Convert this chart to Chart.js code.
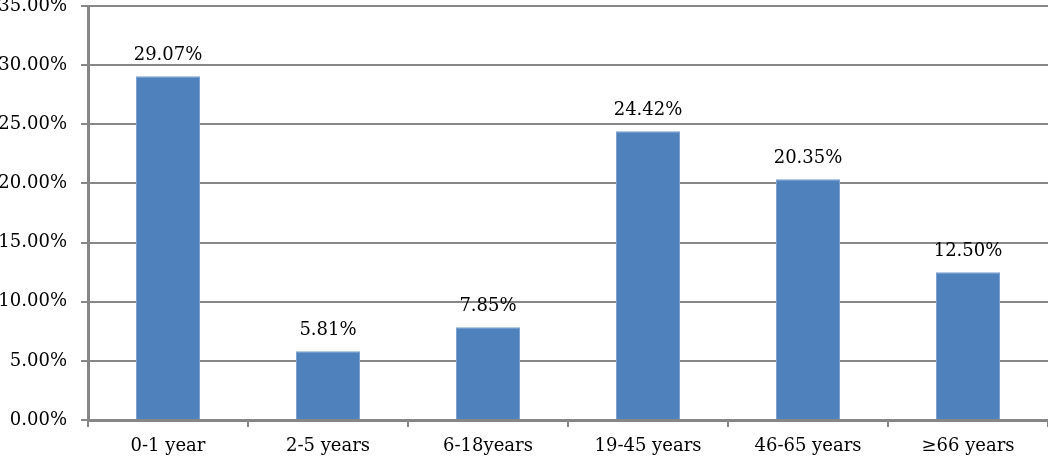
<!DOCTYPE html>
<html>
<head>
<meta charset="utf-8">
<script src="https://cdn.jsdelivr.net/npm/chart.js@4/dist/chart.umd.min.js"></script>
<style>
  html, body { margin: 0; padding: 0; background: #fff; }
  #chart { display: block; }
</style>
</head>
<body>
<canvas id="chart" width="1048" height="456"></canvas>
<script>
// age groups and share of cases (%)
const ageGroups = ['0-1 year', '2-5 years', '6-18years', '19-45 years', '46-65 years', '≥66 years'];
const shares = [29.07, 5.81, 7.85, 24.42, 20.35, 12.50];
const yTicks = [0, 5, 10, 15, 20, 25, 30, 35];

const FONT = 'DejaVu Serif';
const FONT_SIZE = 18;
const AXIS_GRAY = '#878787';

// draws the value above each bar
const barLabels = {
    id: 'barLabels',
    afterDatasetsDraw(chart) {
        const ctx = chart.ctx;
        const meta = chart.getDatasetMeta(0);
        ctx.save();
        ctx.font = FONT_SIZE + 'px "' + FONT + '"';
        ctx.fillStyle = '#000';
        ctx.textAlign = 'center';
        ctx.textBaseline = 'alphabetic';
        meta.data.forEach((bar, i) => {
            ctx.fillText(shares[i].toFixed(2) + '%', bar.x, bar.y - 16);
        });
        ctx.restore();
    }
};

new Chart(document.getElementById('chart'), {
    type: 'bar',
    data: {
        labels: ageGroups,
        datasets: [{
            data: shares,
            backgroundColor: '#4F81BD',
            borderColor: '#7DA1D0',
            borderWidth: 1,
            barPercentage: 0.4,
            categoryPercentage: 1.0
        }]
    },
    options: {
        responsive: false,
        devicePixelRatio: 1,
        animation: false,
        layout: {padding: {top: 6, right: 0, left: 0, bottom: 0}},
        plugins: {
            legend: {display: false},
            tooltip: {enabled: false}
        },
        scales: {
            x: {
                offset: true,
                grid: {
                    display: true,
                    offset: true,
                    drawOnChartArea: false,
                    drawTicks: true,
                    tickLength: 7,
                    color: AXIS_GRAY,
                    lineWidth: 2
                },
                border: {display: true, color: AXIS_GRAY, width: 3},
                ticks: {
                    color: '#000',
                    padding: 9,
                    maxRotation: 0,
                    font: {family: FONT, size: FONT_SIZE}
                },
                afterFit(scale) {
                    scale.height = 36;
                    scale.paddingLeft = 0;
                    scale.paddingRight = 0;
                }
            },
            y: {
                min: 0,
                max: 35,
                afterBuildTicks(scale) {
                    scale.ticks = yTicks.map(v => ({value: v}));
                },
                grid: {
                    display: true,
                    color: AXIS_GRAY,
                    lineWidth: 2,
                    drawTicks: true,
                    tickLength: 7
                },
                border: {display: true, color: AXIS_GRAY, width: 3},
                ticks: {
                    color: '#000',
                    padding: 14,
                    font: {family: FONT, size: FONT_SIZE},
                    callback: v => v.toFixed(2) + '%'
                },
                afterFit(scale) {
                    scale.width = 88;
                    scale.paddingTop = 0;
                    scale.paddingBottom = 0;
                }
            }
        }
    },
    plugins: [barLabels]
});
</script>
</body>
</html>
